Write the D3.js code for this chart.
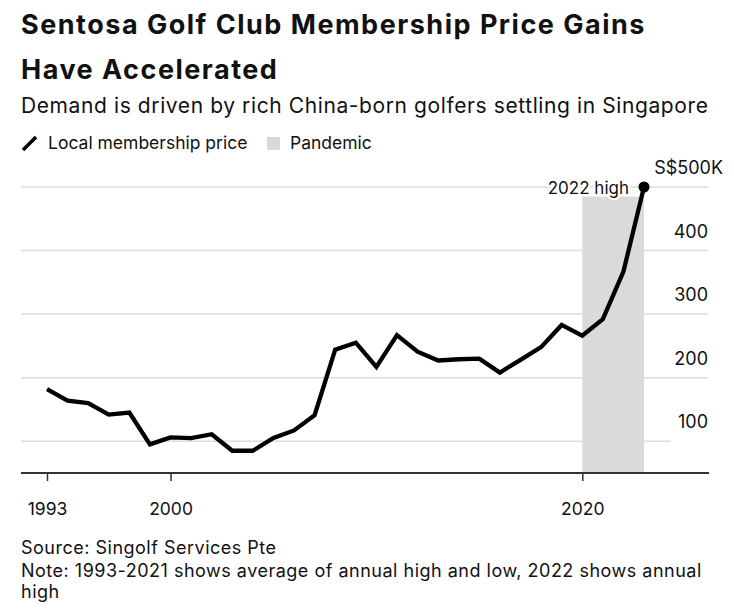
<!DOCTYPE html>
<html>
<head>
<meta charset="utf-8">
<script src="https://cdn.jsdelivr.net/npm/d3@7"></script>
<style>
  body { margin: 0; background: #fff; }
  svg text { font-family: Inter, "Liberation Sans", Arial, sans-serif; fill: #111; }
</style>
</head>
<body>
<script>
// データ（年ごとの会員権価格, 千S$）
const years = [1993,1994,1995,1996,1997,1998,1999,2000,2001,2002,2003,2004,2005,2006,2007,
               2008,2009,2010,2011,2012,2013,2014,2015,2016,2017,2018,2019,2020,2021,2022];
const prices = [182,164,160,142,145,95,106,105,111,85,85,105,117,141,244,
                255,217,267,241,227,229,230,208,228,248,283,266,292,367,500];
const yTicks = [100,200,300,400,500];
const xTickYears = [1993,2000,2020];
const pandemic = [2020,2022];

const width = 734;
const height = 609;

const svg = d3.select("body").append("svg")
  .attr("width", width)
  .attr("height", height);

// 各年の点は年末に置く
const pt = y => new Date(y, 11, 31);
const data = years.map((y,i) => ({date: pt(y), v: prices[i]}));

const x = d3.scaleTime()
  .domain([pt(1993), pt(2022)])
  .range([47, 644]);
const y = d3.scaleLinear()
  .domain([50, 500])
  .range([473, 187]);

// タイトル
svg.append("text").attr("x", 21).attr("y", 34)
  .style("font-size", "27px").style("font-weight", "700")
  .style("letter-spacing", "1.5px")
  .text("Sentosa Golf Club Membership Price Gains");
svg.append("text").attr("x", 21).attr("y", 79)
  .style("font-size", "27px").style("font-weight", "700")
  .style("letter-spacing", "1.5px")
  .text("Have Accelerated");
svg.append("text").attr("x", 21).attr("y", 113)
  .style("font-size", "21px")
  .style("letter-spacing", "0.6px")
  .text("Demand is driven by rich China-born golfers settling in Singapore");

// 凡例
svg.append("line")
  .attr("x1", 23).attr("y1", 150).attr("x2", 36).attr("y2", 137)
  .attr("stroke", "#000").attr("stroke-width", 3.5);
svg.append("text").attr("x", 48).attr("y", 149)
  .style("font-size", "17.5px").text("Local membership price");
svg.append("rect")
  .attr("x", 267).attr("y", 137).attr("width", 13).attr("height", 13)
  .attr("fill", "#d9d9d9");
svg.append("text").attr("x", 290).attr("y", 149)
  .style("font-size", "17.5px").text("Pandemic");

// パンデミック帯
svg.append("rect")
  .attr("x", x(new Date(pandemic[0], 0, 1)))
  .attr("y", y(485))
  .attr("width", x(pt(pandemic[1])) - x(new Date(pandemic[0], 0, 1)))
  .attr("height", y(50) - y(485))
  .attr("fill", "#dadada");

// グリッド
svg.append("g").selectAll("line")
  .data(yTicks)
  .join("line")
  .attr("x1", 21)
  .attr("x2", d => d === 100 ? 671 : 708)
  .attr("y1", d => y(d)).attr("y2", d => y(d))
  .attr("stroke", "#dcdcdc").attr("stroke-width", 1.5);

// 目盛りラベル
svg.append("g").selectAll("text")
  .data(yTicks)
  .join("text")
  .attr("x", d => d === 500 ? 723 : 708)
  .attr("y", d => y(d) - 13)
  .attr("text-anchor", "end")
  .style("font-size", "18px")
  .text(d => d === 500 ? "S$500K" : d);

// x軸
const xTicks = xTickYears.map(v => v === 1993 ? pt(1993) : new Date(v, 0, 1));
const xAxis = svg.append("g")
  .attr("transform", `translate(0,${y(50)})`)
  .call(d3.axisBottom(x).tickValues(xTicks).tickSize(8).tickPadding(22)
    .tickFormat(d3.timeFormat("%Y")));
xAxis.select(".domain").remove();
xAxis.selectAll(".tick line").attr("stroke", "#333").attr("stroke-width", 1.5);
xAxis.selectAll(".tick text")
  .style("font-size", "17.5px")
  .style("font-family", "Inter, 'Liberation Sans', Arial, sans-serif")
  .attr("fill", "#111");
svg.append("line")
  .attr("x1", 21).attr("x2", 709)
  .attr("y1", y(50)).attr("y2", y(50))
  .attr("stroke", "#333").attr("stroke-width", 2);

// 価格ライン
const line = d3.line().x(d => x(d.date)).y(d => y(d.v));
svg.append("path")
  .datum(data)
  .attr("fill", "none")
  .attr("stroke", "#000")
  .attr("stroke-width", 4.3)
  .attr("d", line);

// 2022年の高値
const last = data[data.length - 1];
svg.append("circle")
  .attr("cx", x(last.date)).attr("cy", y(last.v))
  .attr("r", 5.5).attr("fill", "#000");
svg.append("text")
  .attr("x", x(last.date) - 15).attr("y", y(last.v) + 7)
  .attr("text-anchor", "end")
  .style("font-size", "17px")
  .style("paint-order", "stroke")
  .attr("stroke", "#fff").attr("stroke-width", 4)
  .text("2022 high");

// 出典
const noteStyle = s => s.style("font-size", "18px").style("letter-spacing", "0.5px");
svg.append("text").attr("x", 21).attr("y", 554)
  .call(noteStyle).text("Source: Singolf Services Pte");
svg.append("text").attr("x", 21).attr("y", 577)
  .call(noteStyle).text("Note: 1993-2021 shows average of annual high and low, 2022 shows annual");
svg.append("text").attr("x", 21).attr("y", 598)
  .call(noteStyle).text("high");
</script>
</body>
</html>
